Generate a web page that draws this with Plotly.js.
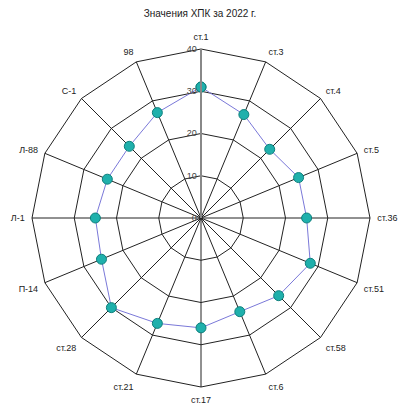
<!DOCTYPE html>
<html><head><meta charset="utf-8">
<script src="https://cdn.plot.ly/plotly-3.0.1.min.js"></script>
<style>html,body{margin:0;padding:0;background:#fff;}#chart{width:400px;height:404px;}</style>
</head><body><div id="chart"></div>
<script>
const categories = ["ст.1","ст.3","ст.4","ст.5","ст.36","ст.51","ст.58","ст.6","ст.17","ст.21","ст.28","П-14","Л-1","Л-88","С-1","98"];
const values = [31, 26.5, 23, 25, 25, 28, 26, 24, 26, 27, 30, 25.5, 25, 24, 24, 27];
const radialTicks = [0, 10, 20, 30, 40];

const trace = {
  type: "scatterpolar",
  r: values.concat([values[0]]),
  theta: categories.concat([categories[0]]),
  mode: "lines+markers",
  line: {color: "#7a78d8", width: 1},
  marker: {color: "#1fb0ac", size: 10, line: {color: "#0e7f7c", width: 1}},
  hoverinfo: "skip"
};

const layout = {
  width: 400, height: 404,
  margin: {l: 32, r: 30, t: 49, b: 17},
  paper_bgcolor: "#fff",
  showlegend: false,
  title: {text: "Значения ХПК за 2022 г.", x: 0.5, xanchor: "center", y: 0.975, yanchor: "top",
          font: {family: "Liberation Sans, Arial", size: 10, color: "#222"}},
  polar: {
    bgcolor: "#fff",
    gridshape: "linear",
    radialaxis: {
      range: [0, 40], tickvals: radialTicks, ticktext: radialTicks.map(String),
      angle: 90, side: "counterclockwise", tickangle: 90,
      showline: true, linecolor: "#888", linewidth: 2,
      gridcolor: "#222", gridwidth: 1, ticks: "",
      tickfont: {family: "Liberation Sans, Arial", size: 9, color: "#444"}
    },
    angularaxis: {
      direction: "clockwise", rotation: 90,
      showline: true, linecolor: "#222", linewidth: 1,
      gridcolor: "#222", gridwidth: 1,
      ticks: "outside", ticklen: 5, tickcolor: "rgba(0,0,0,0)",
      tickfont: {family: "Liberation Sans, Arial", size: 9, color: "#222"}
    }
  }
};

Plotly.newPlot("chart", [trace], layout, {staticPlot: true});
</script>
</body></html>
